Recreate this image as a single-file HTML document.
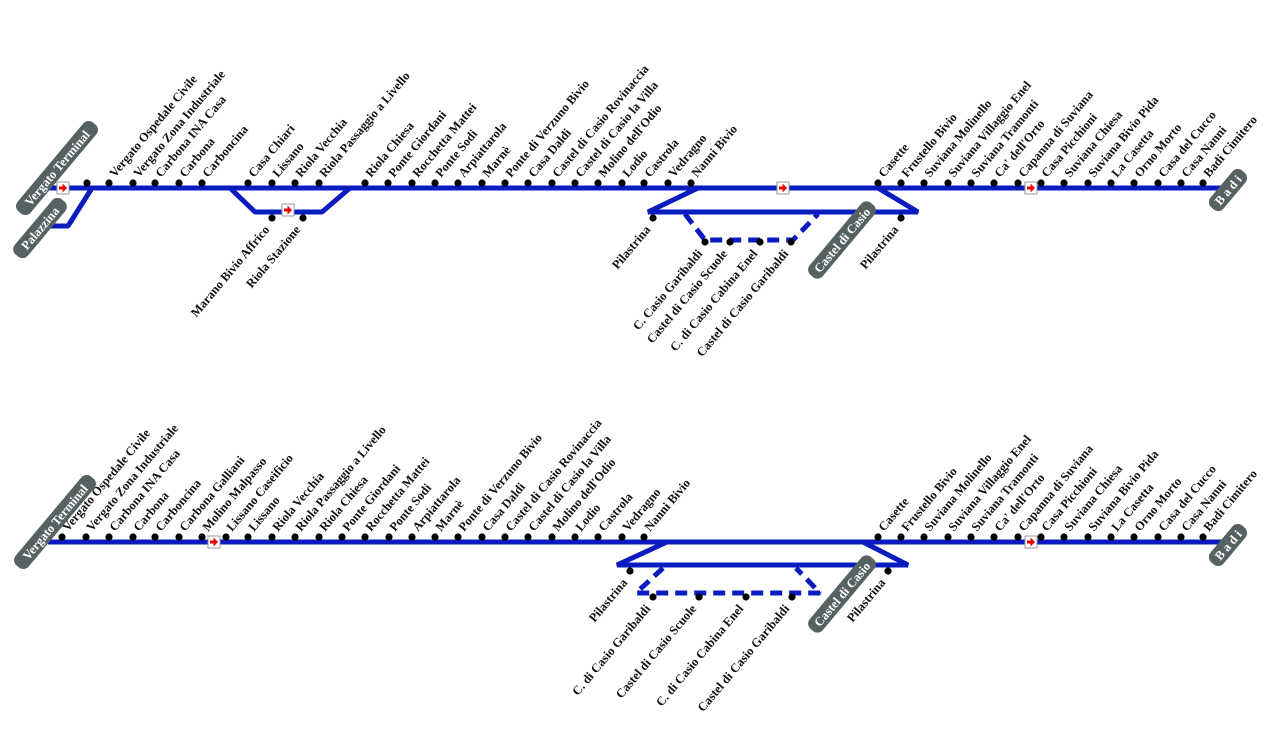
<!DOCTYPE html>
<html><head><meta charset="utf-8"><style>
html,body{margin:0;padding:0;background:#fff}
svg{display:block}
text{font-family:"Liberation Serif",serif;font-weight:bold;font-size:12.5px;fill:#111}
.d text{text-anchor:end}
.p text{fill:#fff;font-size:12.5px;text-anchor:middle}
</style></head><body>
<svg width="1286" height="743" viewBox="0 0 1286 743" xmlns="http://www.w3.org/2000/svg">
<defs>
<g id="arr"><rect x="-6" y="-6" width="12" height="12" fill="#fff" stroke="#999" stroke-width="1"/><path d="M-4,-1.5h3.5v-3l4.5,4.5l-4.5,4.5v-3h-3.5z" fill="#e00"/></g>
</defs>
<g fill="none" stroke="#0a1cc0" stroke-width="5" stroke-linejoin="bevel">
<path d="M48,188H1224"/>
<path d="M50,226H68L92,188"/>
<path d="M230,188L255,212H322L350,188"/>
<path d="M698,188L648,212H918L878,188"/>
<path d="M685,214L705,240H793L818,214" stroke-dasharray="12,7"/>
<path d="M48,542H1224"/>
<path d="M667,542L617,565H908L863,542"/>
<path d="M663,568L636,593H820L796,568" stroke-dasharray="12,7"/>
</g>
<g fill="#000">
<circle cx="87" cy="183" r="3.6"/><circle cx="109" cy="183" r="3.6"/><circle cx="133" cy="183" r="3.6"/><circle cx="155" cy="183" r="3.6"/><circle cx="179" cy="183" r="3.6"/><circle cx="202" cy="183" r="3.6"/><circle cx="248" cy="183" r="3.6"/><circle cx="272" cy="183" r="3.6"/><circle cx="295" cy="183" r="3.6"/><circle cx="319" cy="183" r="3.6"/><circle cx="365" cy="183" r="3.6"/><circle cx="388" cy="183" r="3.6"/><circle cx="412" cy="183" r="3.6"/><circle cx="435" cy="183" r="3.6"/><circle cx="458" cy="183" r="3.6"/><circle cx="482" cy="183" r="3.6"/><circle cx="505" cy="183" r="3.6"/><circle cx="528" cy="183" r="3.6"/><circle cx="552" cy="183" r="3.6"/><circle cx="575" cy="183" r="3.6"/><circle cx="598" cy="183" r="3.6"/><circle cx="622" cy="183" r="3.6"/><circle cx="644" cy="183" r="3.6"/><circle cx="668" cy="183" r="3.6"/><circle cx="691" cy="183" r="3.6"/>
<circle cx="878" cy="183" r="3.6"/><circle cx="901" cy="183" r="3.6"/><circle cx="924" cy="183" r="3.6"/><circle cx="948" cy="183" r="3.6"/><circle cx="971" cy="183" r="3.6"/><circle cx="994" cy="183" r="3.6"/><circle cx="1018" cy="183" r="3.6"/><circle cx="1041" cy="183" r="3.6"/><circle cx="1064" cy="183" r="3.6"/><circle cx="1088" cy="183" r="3.6"/><circle cx="1111" cy="183" r="3.6"/><circle cx="1134" cy="183" r="3.6"/><circle cx="1158" cy="183" r="3.6"/><circle cx="1181" cy="183" r="3.6"/><circle cx="1203" cy="183" r="3.6"/>
<circle cx="272" cy="218" r="3.6"/><circle cx="303" cy="218" r="3.6"/>
<circle cx="653" cy="218" r="3.6"/><circle cx="705" cy="242" r="3.6"/><circle cx="730" cy="242" r="3.6"/><circle cx="760" cy="242" r="3.6"/><circle cx="791" cy="242" r="3.6"/><circle cx="901" cy="218" r="3.6"/>
<circle cx="62" cy="537" r="3.6"/><circle cx="86" cy="537" r="3.6"/><circle cx="109" cy="537" r="3.6"/><circle cx="133" cy="537" r="3.6"/><circle cx="155" cy="537" r="3.6"/><circle cx="179" cy="537" r="3.6"/><circle cx="202" cy="537" r="3.6"/><circle cx="226" cy="537" r="3.6"/><circle cx="248" cy="537" r="3.6"/><circle cx="272" cy="537" r="3.6"/><circle cx="295" cy="537" r="3.6"/><circle cx="319" cy="537" r="3.6"/><circle cx="342" cy="537" r="3.6"/><circle cx="365" cy="537" r="3.6"/><circle cx="389" cy="537" r="3.6"/><circle cx="412" cy="537" r="3.6"/><circle cx="435" cy="537" r="3.6"/><circle cx="458" cy="537" r="3.6"/><circle cx="482" cy="537" r="3.6"/><circle cx="505" cy="537" r="3.6"/><circle cx="528" cy="537" r="3.6"/><circle cx="552" cy="537" r="3.6"/><circle cx="575" cy="537" r="3.6"/><circle cx="598" cy="537" r="3.6"/><circle cx="622" cy="537" r="3.6"/><circle cx="644" cy="537" r="3.6"/>
<circle cx="878" cy="537" r="3.6"/><circle cx="901" cy="537" r="3.6"/><circle cx="924" cy="537" r="3.6"/><circle cx="948" cy="537" r="3.6"/><circle cx="971" cy="537" r="3.6"/><circle cx="994" cy="537" r="3.6"/><circle cx="1018" cy="537" r="3.6"/><circle cx="1041" cy="537" r="3.6"/><circle cx="1064" cy="537" r="3.6"/><circle cx="1088" cy="537" r="3.6"/><circle cx="1111" cy="537" r="3.6"/><circle cx="1134" cy="537" r="3.6"/><circle cx="1158" cy="537" r="3.6"/><circle cx="1181" cy="537" r="3.6"/><circle cx="1203" cy="537" r="3.6"/>
<circle cx="630" cy="571" r="3.6"/><circle cx="653" cy="597" r="3.6"/><circle cx="699" cy="597" r="3.6"/><circle cx="746" cy="597" r="3.6"/><circle cx="792" cy="597" r="3.6"/><circle cx="888" cy="571" r="3.6"/>
</g>
<use href="#arr" x="63" y="188"/><use href="#arr" x="288" y="210"/><use href="#arr" x="783" y="188"/><use href="#arr" x="1031" y="188"/>
<use href="#arr" x="214" y="542"/><use href="#arr" x="1031" y="542"/>
<g>
<text transform="translate(115,178) rotate(-50)">Vergato Ospedale Civile</text>
<text transform="translate(139,178) rotate(-50)">Vergato Zona Industriale</text>
<text transform="translate(161,178) rotate(-50)">Carbona INA Casa</text>
<text transform="translate(185,178) rotate(-50)">Carbona</text>
<text transform="translate(208,178) rotate(-50)">Carboncina</text>
<text transform="translate(254,178) rotate(-50)">Casa Chiari</text>
<text transform="translate(278,178) rotate(-50)">Lissano</text>
<text transform="translate(301,178) rotate(-50)">Riola Vecchia</text>
<text transform="translate(325,178) rotate(-50)">Riola Passaggio a Livello</text>
<text transform="translate(371,178) rotate(-50)">Riola Chiesa</text>
<text transform="translate(394,178) rotate(-50)">Ponte Giordani</text>
<text transform="translate(418,178) rotate(-50)">Rocchetta Mattei</text>
<text transform="translate(441,178) rotate(-50)">Ponte Sodi</text>
<text transform="translate(464,178) rotate(-50)">Arpiattarola</text>
<text transform="translate(488,178) rotate(-50)">Marnè</text>
<text transform="translate(511,178) rotate(-50)">Ponte di Verzuno Bivio</text>
<text transform="translate(534,178) rotate(-50)">Casa Daldi</text>
<text transform="translate(558,178) rotate(-50)">Castel di Casio Rovinaccia</text>
<text transform="translate(581,178) rotate(-50)">Castel di Casio la Villa</text>
<text transform="translate(604,178) rotate(-50)">Molino dell'Odio</text>
<text transform="translate(628,178) rotate(-50)">Lodio</text>
<text transform="translate(650,178) rotate(-50)">Castrola</text>
<text transform="translate(674,178) rotate(-50)">Vedragno</text>
<text transform="translate(697,178) rotate(-50)">Nanni Bivio</text>
<text transform="translate(884,178) rotate(-50)">Casette</text>
<text transform="translate(907,178) rotate(-50)">Frustello Bivio</text>
<text transform="translate(930,178) rotate(-50)">Suviana Molinello</text>
<text transform="translate(954,178) rotate(-50)">Suviana Villaggio Enel</text>
<text transform="translate(977,178) rotate(-50)">Suviana Tramonti</text>
<text transform="translate(1000,178) rotate(-50)">Ca' dell'Orto</text>
<text transform="translate(1024,178) rotate(-50)">Capanna di Suviana</text>
<text transform="translate(1047,178) rotate(-50)">Casa Picchioni</text>
<text transform="translate(1070,178) rotate(-50)">Suviana Chiesa</text>
<text transform="translate(1094,178) rotate(-50)">Suviana Bivio Pida</text>
<text transform="translate(1117,178) rotate(-50)">La Casetta</text>
<text transform="translate(1140,178) rotate(-50)">Orno Morto</text>
<text transform="translate(1164,178) rotate(-50)">Casa del Cucco</text>
<text transform="translate(1187,178) rotate(-50)">Casa Nanni</text>
<text transform="translate(1209,178) rotate(-50)">Badi Cimitero</text>
</g>
<g class="d">
<text transform="translate(270,230) rotate(-50)">Marano Bivio Affrico</text>
<text transform="translate(301,230) rotate(-50)">Riola Stazione</text>
<text transform="translate(651,230) rotate(-50)">Pilastrina</text>
<text transform="translate(703,254) rotate(-50)">C. Casio Garibaldi</text>
<text transform="translate(728,254) rotate(-50)">Castel di Casio Scuole</text>
<text transform="translate(758,254) rotate(-50)">C. di Casio Cabina Enel</text>
<text transform="translate(789,254) rotate(-50)">Castel di Casio Garibaldi</text>
<text transform="translate(899,230) rotate(-50)">Pilastrina</text>
</g>
<g>
<text transform="translate(68,532) rotate(-50)">Vergato Ospedale Civile</text>
<text transform="translate(92,532) rotate(-50)">Vergato Zona Industriale</text>
<text transform="translate(115,532) rotate(-50)">Carbona INA Casa</text>
<text transform="translate(139,532) rotate(-50)">Carbona</text>
<text transform="translate(161,532) rotate(-50)">Carboncina</text>
<text transform="translate(185,532) rotate(-50)">Carbona Galliani</text>
<text transform="translate(208,532) rotate(-50)">Molino Malpasso</text>
<text transform="translate(232,532) rotate(-50)">Lissano Caseificio</text>
<text transform="translate(254,532) rotate(-50)">Lissano</text>
<text transform="translate(278,532) rotate(-50)">Riola Vecchia</text>
<text transform="translate(301,532) rotate(-50)">Riola Passaggio a Livello</text>
<text transform="translate(325,532) rotate(-50)">Riola Chiesa</text>
<text transform="translate(348,532) rotate(-50)">Ponte Giordani</text>
<text transform="translate(371,532) rotate(-50)">Rocchetta Mattei</text>
<text transform="translate(395,532) rotate(-50)">Ponte Sodi</text>
<text transform="translate(418,532) rotate(-50)">Arpiattarola</text>
<text transform="translate(441,532) rotate(-50)">Marnè</text>
<text transform="translate(464,532) rotate(-50)">Ponte di Verzuno Bivio</text>
<text transform="translate(488,532) rotate(-50)">Casa Daldi</text>
<text transform="translate(511,532) rotate(-50)">Castel di Casio Rovinaccia</text>
<text transform="translate(534,532) rotate(-50)">Castel di Casio la Villa</text>
<text transform="translate(558,532) rotate(-50)">Molino dell'Odio</text>
<text transform="translate(581,532) rotate(-50)">Lodio</text>
<text transform="translate(604,532) rotate(-50)">Castrola</text>
<text transform="translate(628,532) rotate(-50)">Vedragno</text>
<text transform="translate(650,532) rotate(-50)">Nanni Bivio</text>
<text transform="translate(884,532) rotate(-50)">Casette</text>
<text transform="translate(907,532) rotate(-50)">Frustello Bivio</text>
<text transform="translate(930,532) rotate(-50)">Suviana Molinello</text>
<text transform="translate(954,532) rotate(-50)">Suviana Villaggio Enel</text>
<text transform="translate(977,532) rotate(-50)">Suviana Tramonti</text>
<text transform="translate(1000,532) rotate(-50)">Ca' dell'Orto</text>
<text transform="translate(1024,532) rotate(-50)">Capanna di Suviana</text>
<text transform="translate(1047,532) rotate(-50)">Casa Picchioni</text>
<text transform="translate(1070,532) rotate(-50)">Suviana Chiesa</text>
<text transform="translate(1094,532) rotate(-50)">Suviana Bivio Pida</text>
<text transform="translate(1117,532) rotate(-50)">La Casetta</text>
<text transform="translate(1140,532) rotate(-50)">Orno Morto</text>
<text transform="translate(1164,532) rotate(-50)">Casa del Cucco</text>
<text transform="translate(1187,532) rotate(-50)">Casa Nanni</text>
<text transform="translate(1209,532) rotate(-50)">Badi Cimitero</text>
</g>
<g class="d">
<text transform="translate(628,583) rotate(-50)">Pilastrina</text>
<text transform="translate(651,609) rotate(-50)">C. di Casio Garibaldi</text>
<text transform="translate(697,609) rotate(-50)">Castel di Casio Scuole</text>
<text transform="translate(744,609) rotate(-50)">C. di Casio Cabina Enel</text>
<text transform="translate(790,609) rotate(-50)">Castel di Casio Garibaldi</text>
<text transform="translate(886,583) rotate(-50)">Pilastrina</text>
</g>
<g class="p">
<g transform="translate(57,168) rotate(-50)"><rect x="-58" y="-8.5" width="116" height="17" rx="7" fill="#566162"/><text y="4.5">Vergato Terminal</text></g>
<g transform="translate(40,228) rotate(-50)"><rect x="-36" y="-8.5" width="72" height="17" rx="7" fill="#566162"/><text y="4.5">Palazzina</text></g>
<g transform="translate(842,240) rotate(-50)"><rect x="-47" y="-8.5" width="94" height="17" rx="7" fill="#566162"/><text y="4.5">Castel di Casio</text></g>
<g transform="translate(1228,190) rotate(-50)"><rect x="-24" y="-8.5" width="48" height="17" rx="7" fill="#566162"/><text y="4.5">B a d i</text></g>
<g transform="translate(55,522) rotate(-50)"><rect x="-58" y="-8.5" width="116" height="17" rx="7" fill="#566162"/><text y="4.5">Vergato Terminal</text></g>
<g transform="translate(842,594) rotate(-50)"><rect x="-47" y="-8.5" width="94" height="17" rx="7" fill="#566162"/><text y="4.5">Castel di Casio</text></g>
<g transform="translate(1228,545) rotate(-50)"><rect x="-24" y="-8.5" width="48" height="17" rx="7" fill="#566162"/><text y="4.5">B a d i</text></g>
</g>
</svg>
</body></html>
